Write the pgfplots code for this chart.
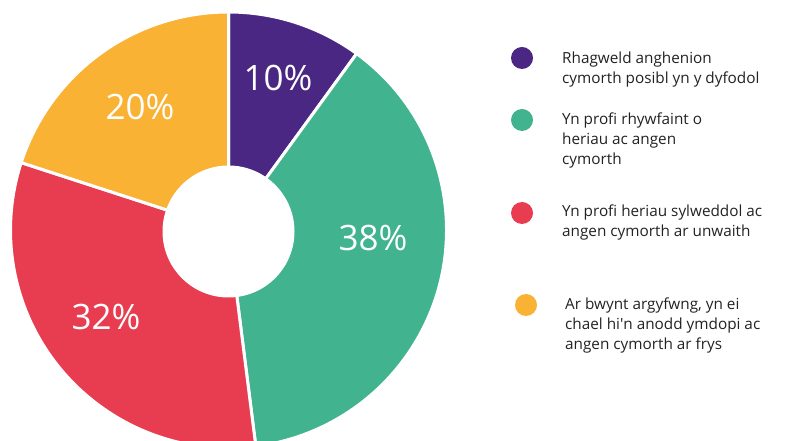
\documentclass[border=0pt]{standalone}
\usepackage{fontspec}
\setmainfont{Open Sans}
\usepackage{pgfplots}
\pgfplotsset{compat=1.18}
\usepackage{pgfplotstable}

\definecolor{cPurple}{HTML}{4A2783}
\definecolor{cGreen}{HTML}{41B38E}
\definecolor{cRed}{HTML}{E83D51}
\definecolor{cYellow}{HTML}{F9B234}
\definecolor{legText}{HTML}{222222}

% value, colour, label position (axis units = px)
\pgfplotstableread{
value col lx ly
10 cPurple 278 363
38 cGreen 373 203
32 cRed 106 124
20 cYellow 140 334
}\donutdata

\begin{document}
\begin{tikzpicture}
\useasboundingbox (0,0) rectangle (791bp,441bp);
\begin{axis}[
    at={(0,0)}, anchor=south west,
    scale only axis,
    width=791bp, height=441bp,
    xmin=0, xmax=791, ymin=0, ymax=441,
    hide axis,
]
    \def\cx{228.5}\def\cy{211}
    \def\startang{90}
    \pgfplotsforeachungrouped \i in {0,...,3}{
        \pgfplotstablegetelem{\i}{value}\of\donutdata \let\v\pgfplotsretval
        \pgfplotstablegetelem{\i}{col}\of\donutdata \let\c\pgfplotsretval
        \pgfplotstablegetelem{\i}{lx}\of\donutdata \let\lx\pgfplotsretval
        \pgfplotstablegetelem{\i}{ly}\of\donutdata \let\ly\pgfplotsretval
        \pgfmathsetmacro\endang{\startang-3.6*\v}
        \edef\tmp{
            \noexpand\fill[\c, draw=white, line width=3bp]
                (axis cs:\cx,\cy) -- ++(\startang:218bp)
                arc[start angle=\startang, end angle=\endang, radius=218bp] -- cycle;
            \noexpand\node[text=white, font=\noexpand\fontsize{35bp}{40bp}\noexpand\selectfont]
                at (axis cs:\lx,\ly) {\v\noexpand\%};
        }
        \tmp
        \global\let\startang\endang
    }
    % hole
    \fill[white] (axis cs:\cx,\cy-1.5) circle[radius=66bp];

    % legend
    \fill[cPurple] (axis cs:522,383) circle[radius=11bp];
    \fill[cGreen]  (axis cs:522,321) circle[radius=11bp];
    \fill[cRed]    (axis cs:522,228) circle[radius=11bp];
    \fill[cYellow] (axis cs:526,136) circle[radius=11bp];
    \begin{scope}[every node/.style={anchor=west, inner sep=0pt, align=left,
        text=legText, font=\fontsize{15.3bp}{20bp}\selectfont}]
    \node at (axis cs:562,371) {Rhagweld anghenion\\cymorth posibl yn y dyfodol};
    \node at (axis cs:562,300.5) {Yn profi rhywfaint o\\heriau ac angen\\cymorth};
    \node at (axis cs:562,218.5) {Yn profi heriau sylweddol ac\\angen cymorth ar unwaith};
    \node at (axis cs:565,116) {Ar bwynt argyfwng, yn ei\\chael hi\textquotesingle n anodd ymdopi ac\\angen cymorth ar frys};
    \end{scope}
\end{axis}
\end{tikzpicture}
\end{document}
